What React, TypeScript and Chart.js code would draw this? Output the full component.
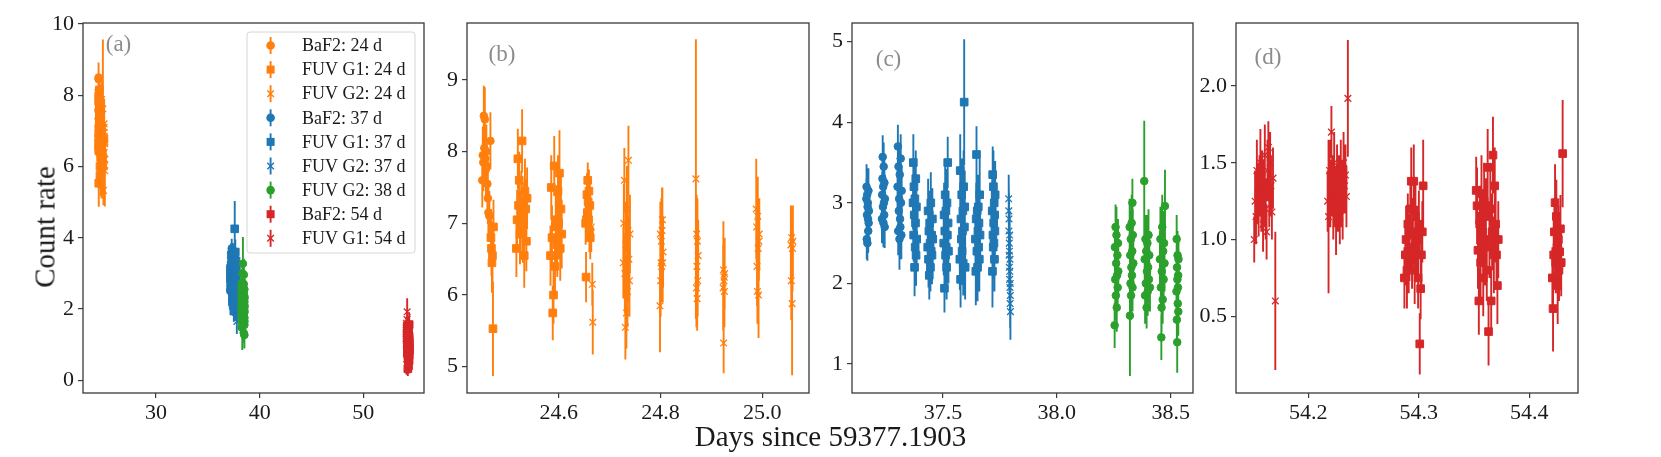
import { useEffect, useRef } from 'react';
import { Chart, registerables } from 'chart.js';

Chart.register(...registerables);

const FONT = '"Liberation Serif", "DejaVu Serif", serif';
Chart.defaults.font.family = FONT;

const ORANGE = '#ff7f0e';
const BLUE = '#1f77b4';
const GREEN = '#2ca02c';
const RED = '#d62728';

// ---- 24 d (orange) ----
const BAF2_24_X = [24.450, 24.451, 24.452, 24.453, 24.454, 24.455, 24.456, 24.457, 24.458, 24.459, 24.460, 24.461, 24.462, 24.464, 24.466];
const BAF2_24_Y = [7.6, 7.95, 7.85, 8.5, 8.05, 8.45, 7.9, 7.75, 8.0, 7.8, 7.55, 7.35, 7.15, 7.1, 8.15];
const BAF2_24_E = [0.38, 0.4, 0.4, 0.42, 0.4, 0.45, 0.38, 0.4, 0.38, 0.38, 0.37, 0.36, 0.36, 0.35, 0.4];

const G1_24_X = [
  24.467, 24.468, 24.469, 24.470, 24.471, 24.472,
  24.517, 24.5184, 24.5198, 24.5212, 24.5226, 24.524, 24.5254, 24.5268, 24.5282, 24.5296, 24.531, 24.5324, 24.5338, 24.5352, 24.5366, 24.538,
  24.584, 24.5855, 24.5869, 24.5884, 24.5899, 24.5913, 24.5928, 24.5943, 24.5957, 24.5972, 24.5987, 24.6001, 24.6016, 24.6031, 24.6045, 24.606,
  24.653, 24.6538, 24.6546, 24.6555, 24.6563, 24.6571, 24.6579, 24.6587, 24.6595, 24.6604, 24.6612, 24.662,
];
const G1_24_Y = [
  6.8, 6.65, 6.45, 6.55, 5.53, 6.95,
  6.65, 7.05, 7.9, 7.25, 7.6, 6.85, 7.0, 7.3, 8.15, 6.9, 7.15, 6.55, 7.45, 7.2, 6.75, 7.35,
  6.55, 7.5, 6.8, 5.75, 6.0, 7.8, 6.4, 6.95, 7.05, 6.7, 7.45, 7.0, 7.7, 6.65, 7.2, 6.85,
  7.0, 6.25, 7.05, 7.4, 7.15, 7.6, 7.3, 7.05, 7.45, 6.9, 7.25, 6.8,
];
const G1_24_E = [
  0.4, 0.38, 0.42, 0.4, 0.66, 0.38,
  0.4, 0.42, 0.42, 0.45, 0.4, 0.42, 0.45, 0.43, 0.44, 0.45, 0.42, 0.45, 0.45, 0.42, 0.42, 0.43,
  0.42, 0.45, 0.45, 0.38, 0.4, 0.42, 0.45, 0.5, 0.48, 0.45, 0.5, 0.5, 0.6, 0.45, 0.45, 0.48,
  0.3, 0.35, 0.3, 0.3, 0.3, 0.25, 0.3, 0.3, 0.3, 0.3, 0.3, 0.3,
];

const G2_24_X = [
  24.664, 24.666, 24.667,
  24.727, 24.728, 24.729, 24.730, 24.731, 24.732, 24.733, 24.734, 24.735, 24.736, 24.737, 24.738, 24.739, 24.740,
  24.799, 24.7997, 24.8003, 24.801, 24.8017, 24.8023, 24.803, 24.8037, 24.8043, 24.805,
  24.8705, 24.871, 24.8695, 24.8715, 24.872, 24.8725, 24.873, 24.874,
  24.923, 24.9235, 24.924, 24.9245, 24.925, 24.9255, 24.926,
  24.988, 24.9888, 24.9895, 24.9903, 24.991, 24.9918, 24.9925, 24.9933, 24.994,
  25.056, 25.0568, 25.0576, 25.0584, 25.0592, 25.060,
];
const G2_24_Y = [
  6.95, 6.15, 5.62,
  6.45, 7.0, 7.6, 6.3, 5.55, 6.7, 5.75, 7.2, 6.05, 6.9, 7.88, 6.5, 6.2, 6.85,
  5.85, 6.85, 6.2, 6.45, 6.75, 6.4, 6.9, 7.05, 6.45, 6.6,
  6.1, 6.85, 7.62, 6.4, 5.95, 6.75, 6.2, 6.55,
  6.1, 6.35, 5.33, 6.2, 6.25, 6.05, 6.3,
  7.2, 6.95, 6.4, 6.05, 7.1, 6.65, 6.0, 6.75, 6.85,
  6.7, 6.2, 6.8, 5.88, 6.65, 6.75,
];
const G2_24_E = [
  0.35, 0.3, 0.45,
  0.5, 0.55, 0.45, 0.55, 0.45, 0.6, 0.5, 0.6, 0.5, 0.55, 0.48, 0.6, 0.5, 0.55,
  0.65, 0.45, 0.5, 0.55, 0.6, 0.5, 0.6, 0.45, 0.55, 0.5,
  0.55, 0.55, 1.95, 0.6, 0.45, 0.6, 0.5, 0.5,
  0.6, 0.68, 0.42, 0.55, 0.45, 0.5, 0.5,
  0.7, 0.5, 0.55, 0.45, 0.55, 0.5, 0.6, 0.55, 0.5,
  0.55, 0.55, 0.45, 1.0, 0.6, 0.5,
];

// ---- 37 d (blue) ----
const BAF2_37_X = [
  37.164, 37.1649, 37.1658, 37.1668, 37.1677, 37.1686, 37.1695, 37.1704, 37.1713, 37.1723, 37.1732, 37.1741, 37.175,
  37.2325, 37.2336, 37.2347, 37.2358, 37.2368, 37.2379, 37.239, 37.2401, 37.2412, 37.2423, 37.2433, 37.2444, 37.2455,
  37.301, 37.3024, 37.3038, 37.3052, 37.3066, 37.308, 37.3094, 37.3106, 37.312, 37.3134, 37.3148, 37.3162, 37.3176, 37.319,
];
const BAF2_37_Y = [
  3.05, 3.2, 2.55, 2.85, 3.1, 2.5, 2.95, 3.0, 2.8, 2.65, 3.15, 2.75, 2.9,
  2.8, 3.1, 3.3, 3.57, 2.95, 3.2, 2.75, 3.45, 3.0, 2.85, 3.25, 2.7, 3.05,
  3.2, 3.7, 2.65, 3.45, 2.9, 3.05, 2.55, 3.35, 2.8, 2.7, 3.55, 3.0, 2.6, 3.15,
];
const BAF2_37_E = [
  0.25, 0.28, 0.25, 0.27, 0.3, 0.22, 0.3, 0.28, 0.26, 0.27, 0.28, 0.25, 0.28,
  0.3, 0.28, 0.3, 0.27, 0.3, 0.28, 0.3, 0.3, 0.28, 0.3, 0.28, 0.26, 0.3,
  0.3, 0.27, 0.3, 0.3, 0.32, 0.28, 0.38, 0.3, 0.32, 0.3, 0.3, 0.32, 0.3, 0.3,
];

const G1_37_X = [
  37.369, 37.3703, 37.3717, 37.373, 37.3743, 37.3757, 37.377, 37.3783, 37.3797, 37.381, 37.3823, 37.3837, 37.385,
  37.4335, 37.4352, 37.4369, 37.4386, 37.4403, 37.442, 37.4437, 37.4453, 37.447, 37.4487, 37.4504, 37.4521, 37.4538, 37.4555,
  37.5037, 37.5053, 37.5069, 37.5085, 37.5101, 37.5117, 37.5133, 37.5148, 37.5164, 37.518, 37.5196, 37.5212, 37.5228, 37.5244,
  37.5744, 37.5761, 37.5777, 37.5794, 37.581, 37.5827, 37.5844, 37.586, 37.5877, 37.5893, 37.591, 37.5935, 37.5944, 37.596, 37.5977,
  37.643, 37.6445, 37.6461, 37.6476, 37.6492, 37.6507, 37.6522, 37.6538, 37.6553, 37.6568, 37.6584, 37.6599, 37.6615, 37.663,
  37.7165, 37.7176, 37.7187, 37.7198, 37.7209, 37.7219, 37.723, 37.7241, 37.7252, 37.7263, 37.7273, 37.7284, 37.7295,
];
const G1_37_Y = [
  3.0, 3.5, 2.6, 3.2, 2.85, 2.2, 3.05, 2.45, 2.75, 3.3, 2.35, 2.95, 2.55,
  2.45, 2.9, 2.3, 2.65, 2.1, 2.75, 2.5, 2.2, 3.0, 2.4, 2.6, 2.35, 2.8, 2.55,
  2.5, 2.85, 1.94, 2.65, 3.1, 2.35, 2.9, 2.45, 2.2, 3.0, 2.6, 3.5, 2.75, 2.4,
  2.3, 3.4, 2.05, 2.8, 2.55, 3.1, 2.4, 2.65, 2.9, 2.25, 3.2, 4.25, 2.7, 2.95, 2.2,
  2.55, 2.15, 2.8, 3.6, 2.4, 2.9, 2.2, 2.65, 2.95, 2.45, 2.75, 2.3, 3.1, 2.6,
  2.9, 2.15, 3.35, 2.6, 2.45, 3.2, 2.75, 2.5, 3.0, 2.3, 2.85, 2.65, 3.1,
];
const G1_37_E = [
  0.33, 0.35, 0.33, 0.35, 0.4, 0.36, 0.35, 0.35, 0.4, 0.35, 0.38, 0.35, 0.35,
  0.35, 0.4, 0.35, 0.38, 0.3, 0.4, 0.38, 0.3, 0.38, 0.35, 0.4, 0.36, 0.38, 0.35,
  0.4, 0.4, 0.3, 0.45, 0.42, 0.4, 0.45, 0.4, 0.4, 0.42, 0.4, 0.32, 0.4, 0.4,
  0.38, 0.45, 0.35, 0.45, 0.4, 0.45, 0.42, 0.4, 0.42, 0.4, 0.45, 0.78, 0.42, 0.45, 0.4,
  0.4, 0.42, 0.45, 0.35, 0.4, 0.45, 0.42, 0.45, 0.4, 0.42, 0.42, 0.4, 0.45, 0.4,
  0.4, 0.45, 0.35, 0.42, 0.4, 0.45, 0.42, 0.45, 0.4, 0.4, 0.42, 0.4, 0.42,
];

const G2_37_X = [37.789, 37.7895, 37.7899, 37.7904, 37.7909, 37.7913, 37.7918, 37.7923, 37.7928, 37.7932, 37.7937, 37.7942, 37.7946, 37.7951, 37.7956, 37.796, 37.7965];
const G2_37_Y = [3.05, 2.9, 2.65, 2.8, 2.35, 2.5, 2.2, 2.4, 2.05, 2.6, 2.15, 1.95, 2.3, 1.75, 2.0, 1.85, 1.65];
const G2_37_E = [0.3, 0.28, 0.3, 0.32, 0.28, 0.3, 0.3, 0.28, 0.3, 0.3, 0.32, 0.28, 0.3, 0.3, 0.28, 0.3, 0.35];

// ---- 38 d (green) ----
const G2_38_X = [
  38.254, 38.2553, 38.2567, 38.258, 38.2593, 38.2607, 38.262, 38.2633, 38.2647, 38.266, 38.2673, 38.2687, 38.270,
  38.320, 38.3212, 38.3225, 38.332, 38.3237, 38.325, 38.3262, 38.3275, 38.3287, 38.33, 38.3312, 38.3325, 38.3337, 38.336,
  38.386, 38.3877, 38.384, 38.3893, 38.391, 38.3927, 38.3943, 38.396, 38.3977, 38.3993, 38.401, 38.4027, 38.4043, 38.406, 38.409,
  38.453, 38.459, 38.455, 38.457, 38.475, 38.461, 38.463, 38.465, 38.467, 38.469, 38.471, 38.473, 38.460,
  38.5255, 38.5263, 38.5271, 38.5279, 38.5287, 38.5295, 38.5303, 38.5311, 38.5319, 38.5327, 38.5335, 38.5343,
];
const G2_38_Y = [
  1.48, 2.45, 2.05, 2.7, 1.85, 2.25, 2.6, 1.7, 2.1, 2.35, 1.95, 2.5, 2.15,
  2.7, 1.6, 2.35, 3.0, 2.0, 2.55, 1.85, 2.2, 2.75, 2.1, 2.4, 1.95, 2.6, 2.25,
  2.3, 1.85, 3.27, 2.55, 2.0, 2.4, 1.7, 2.15, 2.5, 1.9, 2.2, 2.6, 2.05, 2.35, 1.95,
  2.3, 1.33, 2.55, 1.95, 2.96, 2.15, 2.7, 1.8, 2.4, 2.05, 2.5, 2.25, 1.7,
  1.9, 2.55, 1.55, 2.2, 1.27, 2.05, 2.35, 1.75, 1.95, 2.1, 1.65, 2.3,
];
const G2_38_E = [
  0.28, 0.3, 0.3, 0.28, 0.3, 0.3, 0.35, 0.3, 0.3, 0.3, 0.28, 0.3, 0.3,
  0.35, 0.75, 0.3, 0.3, 0.32, 0.35, 0.3, 0.3, 0.35, 0.3, 0.3, 0.3, 0.32, 0.3,
  0.3, 0.35, 0.75, 0.3, 0.32, 0.3, 0.26, 0.3, 0.35, 0.3, 0.3, 0.32, 0.3, 0.3, 0.3,
  0.35, 0.28, 0.4, 0.3, 0.45, 0.3, 0.4, 0.3, 0.35, 0.32, 0.4, 0.35, 0.3,
  0.3, 0.3, 0.3, 0.32, 0.38, 0.3, 0.3, 0.3, 0.3, 0.3, 0.3, 0.3,
];

// ---- 54 d (red) ----
const BAF2_54_X = [
  54.2870, 54.2878, 54.2885, 54.2893, 54.2901, 54.2909, 54.2916, 54.2924, 54.2932, 54.2939, 54.2947, 54.2955,
  54.2963, 54.2970, 54.2978, 54.2986, 54.2994, 54.3001, 54.3009, 54.3017, 54.3024, 54.3032, 54.3040,
  54.3520, 54.3528, 54.3536, 54.3544, 54.3552, 54.3560, 54.3568, 54.3576, 54.3584, 54.3592, 54.3600, 54.3608, 54.3616,
  54.3624, 54.3632, 54.3640, 54.3648, 54.3656, 54.3664, 54.3672, 54.3680, 54.3688, 54.3696, 54.3704, 54.3712, 54.3720,
  54.4210, 54.4216, 54.4222, 54.4228, 54.4234, 54.4240, 54.4246, 54.4252, 54.4258, 54.4264, 54.4270, 54.4276, 54.4283, 54.4290, 54.4303,
];
const BAF2_54_Y = [
  0.75, 0.9, 1.0, 0.8, 1.1, 0.85, 0.95, 1.2, 1.38, 0.9, 1.05, 1.38,
  0.8, 1.15, 0.95, 1.0, 0.75, 1.1, 0.32, 0.68, 0.9, 1.05, 1.35,
  1.32, 1.22, 0.93, 0.6, 1.1, 0.85, 1.3, 1.05, 0.75, 1.25, 0.95, 1.15, 0.8,
  1.47, 0.4, 1.0, 1.2, 0.6, 1.05, 1.55, 0.9, 1.35, 1.1, 0.9, 0.7, 1.0,
  0.75, 0.55, 0.9, 1.05, 1.24, 0.85, 1.15, 0.95, 0.7, 1.0, 0.8, 0.92, 1.07, 0.85, 1.56,
];
const BAF2_54_E = [
  0.2, 0.2, 0.22, 0.25, 0.2, 0.2, 0.22, 0.2, 0.22, 0.22, 0.22, 0.24,
  0.22, 0.22, 0.2, 0.22, 0.2, 0.22, 0.2, 0.2, 0.22, 0.2, 0.3,
  0.22, 0.25, 0.25, 0.22, 0.25, 0.25, 0.25, 0.22, 0.25, 0.25, 0.25, 0.25, 0.2,
  0.25, 0.22, 0.25, 0.3, 0.22, 0.25, 0.25, 0.25, 0.25, 0.25, 0.22, 0.25, 0.25,
  0.2, 0.28, 0.22, 0.22, 0.25, 0.2, 0.24, 0.22, 0.25, 0.22, 0.2, 0.25, 0.22, 0.22, 0.35,
];

const G1_54_X = [
  54.1510, 54.1518, 54.1526, 54.1534, 54.1542, 54.1550, 54.1558, 54.1566, 54.1574, 54.1582, 54.1590, 54.1598,
  54.1606, 54.1614, 54.1622, 54.1630, 54.1638, 54.1646, 54.1654, 54.1662, 54.1670, 54.1680, 54.1701,
  54.2175, 54.2183, 54.2192, 54.2200, 54.2209, 54.2217, 54.2226, 54.2234, 54.2243, 54.2251, 54.2260,
  54.2268, 54.2277, 54.2285, 54.2294, 54.2302, 54.2311, 54.2319, 54.2328, 54.2336, 54.2358, 54.2345,
];
const G1_54_Y = [
  1.0, 1.25, 1.15, 1.45, 1.3, 1.2, 1.35, 1.5, 1.25, 1.4, 1.1, 1.3,
  1.55, 1.2, 1.05, 1.45, 1.6, 1.3, 1.5, 1.35, 1.18, 1.4, 0.6,
  1.25, 1.15, 1.45, 1.3, 1.7, 1.35, 1.2, 1.5, 1.28, 1.1, 1.4,
  1.25, 1.35, 1.15, 1.45, 1.3, 1.2, 1.5, 1.35, 1.42, 1.92, 1.28,
];
const G1_54_E = [
  0.15, 0.2, 0.18, 0.2, 0.2, 0.18, 0.2, 0.22, 0.2, 0.18, 0.18, 0.22,
  0.2, 0.2, 0.18, 0.2, 0.17, 0.22, 0.2, 0.2, 0.18, 0.2, 0.45,
  0.2, 0.5, 0.2, 0.22, 0.17, 0.2, 0.2, 0.2, 0.2, 0.2, 0.22,
  0.2, 0.2, 0.18, 0.2, 0.22, 0.2, 0.2, 0.18, 0.2, 0.38, 0.2,
];

// ---- tick values ----
const A_X_TICKS = [30, 40, 50];
const A_Y_TICKS = [0, 2, 4, 6, 8, 10];
const B_X_TICKS = [24.6, 24.8, 25.0];
const B_Y_TICKS = [5, 6, 7, 8, 9];
const C_X_TICKS = [37.5, 38.0, 38.5];
const C_Y_TICKS = [1, 2, 3, 4, 5];
const D_X_TICKS = [54.2, 54.3, 54.4];
const D_Y_TICKS = [0.5, 1.0, 1.5, 2.0];

type Marker = 'circle' | 'rect' | 'crossRot';

const SERIES: { label: string; color: string; marker: Marker; x: number[]; y: number[]; e: number[] }[] = [
  { label: 'BaF2: 24 d', color: ORANGE, marker: 'circle', x: BAF2_24_X, y: BAF2_24_Y, e: BAF2_24_E },
  { label: 'FUV G1: 24 d', color: ORANGE, marker: 'rect', x: G1_24_X, y: G1_24_Y, e: G1_24_E },
  { label: 'FUV G2: 24 d', color: ORANGE, marker: 'crossRot', x: G2_24_X, y: G2_24_Y, e: G2_24_E },
  { label: 'BaF2: 37 d', color: BLUE, marker: 'circle', x: BAF2_37_X, y: BAF2_37_Y, e: BAF2_37_E },
  { label: 'FUV G1: 37 d', color: BLUE, marker: 'rect', x: G1_37_X, y: G1_37_Y, e: G1_37_E },
  { label: 'FUV G2: 37 d', color: BLUE, marker: 'crossRot', x: G2_37_X, y: G2_37_Y, e: G2_37_E },
  { label: 'FUV G2: 38 d', color: GREEN, marker: 'circle', x: G2_38_X, y: G2_38_Y, e: G2_38_E },
  { label: 'BaF2: 54 d', color: RED, marker: 'rect', x: BAF2_54_X, y: BAF2_54_Y, e: BAF2_54_E },
  { label: 'FUV G1: 54 d', color: RED, marker: 'crossRot', x: G1_54_X, y: G1_54_Y, e: G1_54_E },
];

const RADIUS: Record<Marker, number> = { circle: 3.8, rect: 5.4, crossRot: 4.7 };

interface PanelCfg {
  tag: string;
  left: number;
  right: number;
  series: number[];
  xMin: number; xMax: number; yMin: number; yMax: number;
  xTicks: number[]; yTicks: number[]; xDec: number; yDec: number;
  tagAt: [number, number];
  legend?: boolean;
}

const PANELS: PanelCfg[] = [
  { tag: '(a)', left: 83, right: 424, series: [0, 1, 2, 3, 4, 5, 6, 7, 8], xMin: 22.95, xMax: 55.86, yMin: -0.36, yMax: 10.03, xTicks: A_X_TICKS, yTicks: A_Y_TICKS, xDec: 0, yDec: 0, tagAt: [35.5, 21.5], legend: true },
  { tag: '(b)', left: 467, right: 809, series: [0, 1, 2], xMin: 24.42, xMax: 25.0916, yMin: 4.633, yMax: 9.795, xTicks: B_X_TICKS, yTicks: B_Y_TICKS, xDec: 1, yDec: 0, tagAt: [35, 31.5] },
  { tag: '(c)', left: 852, right: 1193, series: [3, 4, 5, 6], xMin: 37.101, xMax: 38.598, yMin: 0.64, yMax: 5.232, xTicks: C_X_TICKS, yTicks: C_Y_TICKS, xDec: 1, yDec: 0, tagAt: [36.5, 36.5] },
  { tag: '(d)', left: 1236, right: 1578, series: [7, 8], xMin: 54.1345, xMax: 54.4442, yMin: 0.0, yMax: 2.411, xTicks: D_X_TICKS, yTicks: D_Y_TICKS, xDec: 1, yDec: 1, tagAt: [32, 34.5] },
];

const Y_AXIS_W = 60;
const PAD_RIGHT = 30;
const TOP = 23;
const BOTTOM = 393;
const H = 457;
const BAR_W = 1.9;

function drawMarker(ctx: CanvasRenderingContext2D, m: Marker, x: number, y: number, color: string) {
  ctx.fillStyle = color;
  ctx.strokeStyle = color;
  if (m === 'circle') {
    ctx.beginPath();
    ctx.arc(x, y, 4.3, 0, Math.PI * 2);
    ctx.fill();
  } else if (m === 'rect') {
    ctx.fillRect(x - 4, y - 4, 8, 8);
  } else {
    const a = 3.3;
    ctx.lineWidth = 1.4;
    ctx.beginPath();
    ctx.moveTo(x - a, y - a); ctx.lineTo(x + a, y + a);
    ctx.moveTo(x - a, y + a); ctx.lineTo(x + a, y - a);
    ctx.stroke();
  }
}

const errorBars = {
  id: 'errorBars',
  beforeDatasetDraw(chart: any, args: any) {
    const ds = chart.data.datasets[args.index];
    const { ctx, chartArea, scales } = chart;
    ctx.save();
    ctx.beginPath();
    ctx.rect(chartArea.left, chartArea.top, chartArea.width, chartArea.height);
    ctx.clip();
    ctx.strokeStyle = ds.borderColor;
    ctx.lineWidth = BAR_W;
    ctx.beginPath();
    for (const p of ds.data) {
      const px = scales.x.getPixelForValue(p.x);
      ctx.moveTo(px, scales.y.getPixelForValue(p.y - p.e));
      ctx.lineTo(px, scales.y.getPixelForValue(p.y + p.e));
    }
    ctx.stroke();
    ctx.restore();
  },
};

const frame = {
  id: 'frame',
  afterDraw(chart: any, _args: any, opts: any) {
    const { ctx, chartArea } = chart;
    ctx.save();
    ctx.strokeStyle = '#3a3a3a';
    ctx.lineWidth = 1.3;
    ctx.strokeRect(chartArea.left, chartArea.top, chartArea.width, chartArea.height);
    ctx.fillStyle = '#8c8c8c';
    ctx.font = `23px ${FONT}`;
    ctx.textAlign = 'center';
    ctx.textBaseline = 'middle';
    ctx.fillText(opts.tag, chartArea.left + opts.tagAt[0], chartArea.top + opts.tagAt[1]);
    ctx.restore();
  },
};

const legendBox = {
  id: 'legendBox',
  afterDraw(chart: any, _args: any, opts: any) {
    if (!opts.show) return;
    const { ctx, chartArea } = chart;
    const bx = chartArea.left + 164;
    const by = chartArea.top + 9;
    const bw = chartArea.right - 9 - bx;
    const bh = 221;
    ctx.save();
    ctx.beginPath();
    ctx.roundRect(bx, by, bw, bh, 3);
    ctx.fillStyle = 'rgba(255,255,255,0.8)';
    ctx.fill();
    ctx.strokeStyle = '#d6d6d6';
    ctx.lineWidth = 1;
    ctx.stroke();
    ctx.font = `18px ${FONT}`;
    ctx.textAlign = 'left';
    ctx.textBaseline = 'middle';
    chart.data.datasets.forEach((ds: any, i: number) => {
      const y = by + 13.5 + i * 24.1;
      const mx = bx + 23.6;
      ctx.strokeStyle = ds.borderColor;
      ctx.lineWidth = BAR_W;
      ctx.beginPath();
      ctx.moveTo(mx, y - 8.5);
      ctx.lineTo(mx, y + 8.5);
      ctx.stroke();
      drawMarker(ctx, ds.pointStyle, mx, y, ds.borderColor);
      ctx.fillStyle = '#1a1a1a';
      ctx.fillText(ds.label, bx + 55, y + 1);
    });
    ctx.restore();
  },
};

function Panel({ cfg }: { cfg: PanelCfg }) {
  const ref = useRef<HTMLCanvasElement>(null);
  const width = Y_AXIS_W + (cfg.right - cfg.left) + PAD_RIGHT;

  useEffect(() => {
    if (!ref.current) return;
    const n = cfg.series.length;
    const datasets = cfg.series.map((si, i) => {
      const s = SERIES[si];
      return {
        label: s.label,
        data: s.x.map((x, k) => ({ x, y: s.y[k], e: s.e[k] })),
        showLine: false,
        pointStyle: s.marker,
        pointRadius: RADIUS[s.marker],
        pointHoverRadius: RADIUS[s.marker],
        pointBackgroundColor: s.color,
        pointBorderColor: s.color,
        pointBorderWidth: s.marker === 'crossRot' ? 1.3 : 1,
        backgroundColor: s.color,
        borderColor: s.color,
        order: n - i,
      };
    });

    const tickFont = { size: 22, family: FONT };
    const chart = new Chart(ref.current, {
      type: 'scatter',
      data: { datasets },
      plugins: [errorBars, frame, legendBox],
      options: {
        responsive: false,
        animation: false,
        events: [],
        layout: { padding: { top: TOP, right: PAD_RIGHT, left: 0, bottom: 0 } },
        plugins: {
          legend: { display: false },
          tooltip: { enabled: false },
          frame: { tag: cfg.tag, tagAt: cfg.tagAt },
          legendBox: { show: !!cfg.legend },
        } as any,
        scales: {
          x: {
            type: 'linear',
            min: cfg.xMin,
            max: cfg.xMax,
            afterBuildTicks: (s: any) => { s.ticks = cfg.xTicks.map((v) => ({ value: v })); },
            afterFit: (s: any) => { s.height = H - BOTTOM; },
            ticks: {
              font: tickFont,
              color: '#1a1a1a',
              padding: 2,
              maxRotation: 0,
              autoSkip: false,
              callback: (v: any) => Number(v).toFixed(cfg.xDec),
            },
            grid: { drawOnChartArea: false, tickLength: 5, color: '#3a3a3a', lineWidth: 1.2 },
            border: { display: false },
          },
          y: {
            type: 'linear',
            min: cfg.yMin,
            max: cfg.yMax,
            afterBuildTicks: (s: any) => { s.ticks = cfg.yTicks.map((v) => ({ value: v })); },
            afterFit: (s: any) => { s.width = Y_AXIS_W; },
            ticks: {
              font: tickFont,
              color: '#1a1a1a',
              padding: 4,
              autoSkip: false,
              callback: (v: any) => Number(v).toFixed(cfg.yDec),
            },
            grid: { drawOnChartArea: false, tickLength: 5, color: '#3a3a3a', lineWidth: 1.2 },
            border: { display: false },
          },
        },
      },
    });
    return () => chart.destroy();
  }, [cfg]);

  return (
    <canvas
      ref={ref}
      width={width}
      height={H}
      style={{ position: 'absolute', left: cfg.left - Y_AXIS_W, top: 0, width, height: H }}
    />
  );
}

export default function App() {
  return (
    <div style={{ position: 'absolute', left: 0, top: 0, width: 1661, height: 457, background: '#fff', fontFamily: FONT, color: '#1a1a1a', overflow: 'hidden' }}>
      {PANELS.map((p) => (
        <Panel key={p.tag} cfg={p} />
      ))}
      <div style={{ position: 'absolute', left: 45, top: 227, transform: 'translate(-50%, -50%) rotate(-90deg)', fontSize: 29, lineHeight: '29px', whiteSpace: 'nowrap' }}>
        Count rate
      </div>
      <div style={{ position: 'absolute', left: 830.5, top: 421.7, transform: 'translateX(-50%)', fontSize: 29, lineHeight: '29px', whiteSpace: 'nowrap' }}>
        Days since 59377.1903
      </div>
    </div>
  );
}
